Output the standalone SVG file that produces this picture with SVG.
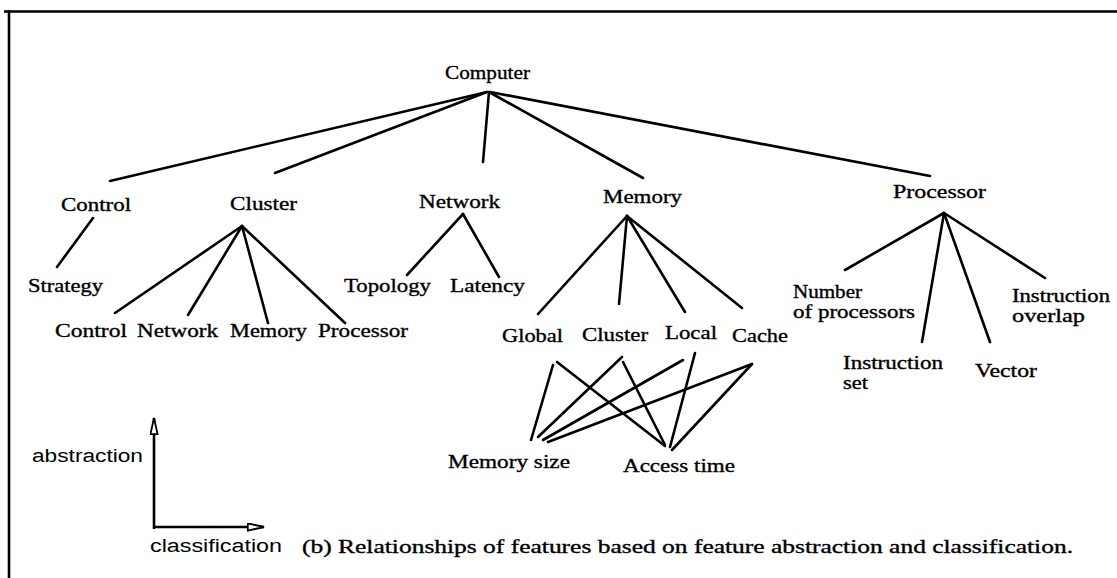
<svg xmlns="http://www.w3.org/2000/svg" width="1117" height="578" viewBox="0 0 1117 578">
<style>
.t{font-family:"Liberation Serif","Times New Roman",serif;font-size:19px;fill:#000;stroke:#000;stroke-width:0.35}
.t2{font-family:"Liberation Serif","Times New Roman",serif;font-size:18px;fill:#000;stroke:#000;stroke-width:0.35}
.s{font-family:"Liberation Sans",Arial,sans-serif;font-size:18px;fill:#000}
.e{stroke:#000;stroke-width:2.6;fill:none;stroke-linecap:round}
.b{stroke:#000;stroke-width:2.6;fill:none}
</style>
<defs>
<marker id="oa" viewBox="0 0 20 10" refX="19" refY="5" markerWidth="18" markerHeight="9" markerUnits="userSpaceOnUse" orient="auto">
<path d="M1,1 L19,5 L1,9 Z" fill="#fff" stroke="#000" stroke-width="2"/>
</marker>
</defs>
<rect width="1117" height="578" fill="#fff"/>
<g id="frame">
<line class="b" x1="4" y1="11.5" x2="1117" y2="11.5"/>
<line class="b" x1="9" y1="10" x2="9" y2="578"/>
</g>
<g id="connectors">
<line class="e" x1="487" y1="92" x2="110" y2="181"/>
<line class="e" x1="487" y1="92" x2="275" y2="173"/>
<line class="e" x1="489" y1="92" x2="483" y2="162"/>
<line class="e" x1="489" y1="92" x2="643" y2="178"/>
<line class="e" x1="490" y1="92" x2="930" y2="176"/>
<line class="e" x1="93" y1="218" x2="57" y2="267"/>
<line class="e" x1="242" y1="226" x2="115" y2="313"/>
<line class="e" x1="242" y1="226" x2="188" y2="315"/>
<line class="e" x1="242" y1="226" x2="268" y2="323"/>
<line class="e" x1="242" y1="226" x2="345" y2="323"/>
<line class="e" x1="463" y1="214" x2="407" y2="275"/>
<line class="e" x1="463" y1="214" x2="499" y2="277"/>
<line class="e" x1="627" y1="216" x2="538" y2="314"/>
<line class="e" x1="627" y1="216" x2="619" y2="304"/>
<line class="e" x1="627" y1="216" x2="685" y2="312"/>
<line class="e" x1="627" y1="216" x2="742" y2="308"/>
<line class="e" x1="944" y1="213" x2="845" y2="270"/>
<line class="e" x1="944" y1="213" x2="922" y2="342"/>
<line class="e" x1="944" y1="213" x2="990" y2="342"/>
<line class="e" x1="944" y1="213" x2="1045" y2="278"/>
<line class="e" x1="553" y1="365" x2="531" y2="440"/>
<line class="e" x1="557" y1="362" x2="665" y2="446"/>
<line class="e" x1="622" y1="357" x2="538" y2="437"/>
<line class="e" x1="623" y1="362" x2="665" y2="445"/>
<line class="e" x1="683" y1="360" x2="543" y2="440"/>
<line class="e" x1="695" y1="353" x2="670" y2="447"/>
<line class="e" x1="752" y1="364" x2="548" y2="442"/>
<line class="e" x1="752" y1="364" x2="672" y2="450"/>
</g>
<g id="axes">
<line class="b" x1="154" y1="529" x2="154" y2="418" marker-end="url(#oa)"/>
<line class="b" x1="153" y1="527" x2="264" y2="527" marker-end="url(#oa)"/>
<text class="s" x="32" y="462" textLength="111" lengthAdjust="spacingAndGlyphs">abstraction</text>
<text class="s" x="150" y="552" textLength="132" lengthAdjust="spacingAndGlyphs">classification</text>
</g>
<g id="n-computer"><text class="t" x="445" y="79" textLength="85" lengthAdjust="spacingAndGlyphs">Computer</text></g>
<g id="n-control"><text class="t" x="61" y="211" textLength="70" lengthAdjust="spacingAndGlyphs">Control</text></g>
<g id="n-cluster"><text class="t" x="230" y="210" textLength="67" lengthAdjust="spacingAndGlyphs">Cluster</text></g>
<g id="n-network"><text class="t" x="419" y="208" textLength="81" lengthAdjust="spacingAndGlyphs">Network</text></g>
<g id="n-memory"><text class="t" x="603" y="203" textLength="79" lengthAdjust="spacingAndGlyphs">Memory</text></g>
<g id="n-processor"><text class="t" x="893" y="198" textLength="93" lengthAdjust="spacingAndGlyphs">Processor</text></g>
<g id="n-strategy"><text class="t" x="28" y="292" textLength="75" lengthAdjust="spacingAndGlyphs">Strategy</text></g>
<g id="n-cl-control"><text class="t" x="55" y="337" textLength="72" lengthAdjust="spacingAndGlyphs">Control</text></g>
<g id="n-cl-network"><text class="t" x="137" y="337" textLength="81" lengthAdjust="spacingAndGlyphs">Network</text></g>
<g id="n-cl-memory"><text class="t" x="230" y="337" textLength="77" lengthAdjust="spacingAndGlyphs">Memory</text></g>
<g id="n-cl-processor"><text class="t" x="318" y="337" textLength="90" lengthAdjust="spacingAndGlyphs">Processor</text></g>
<g id="n-topology"><text class="t" x="344" y="292" textLength="87" lengthAdjust="spacingAndGlyphs">Topology</text></g>
<g id="n-latency"><text class="t" x="450" y="292" textLength="75" lengthAdjust="spacingAndGlyphs">Latency</text></g>
<g id="n-global"><text class="t" x="502" y="342" textLength="61" lengthAdjust="spacingAndGlyphs">Global</text></g>
<g id="n-mem-cluster"><text class="t" x="582" y="341" textLength="66" lengthAdjust="spacingAndGlyphs">Cluster</text></g>
<g id="n-local"><text class="t" x="665" y="339" textLength="52" lengthAdjust="spacingAndGlyphs">Local</text></g>
<g id="n-cache"><text class="t" x="732" y="342" textLength="56" lengthAdjust="spacingAndGlyphs">Cache</text></g>
<g id="n-memsize"><text class="t" x="448" y="468" textLength="122" lengthAdjust="spacingAndGlyphs">Memory size</text></g>
<g id="n-access"><text class="t" x="623" y="472" textLength="112" lengthAdjust="spacingAndGlyphs">Access time</text></g>
<g id="n-numproc"><text class="t2" x="793" y="298" textLength="69" lengthAdjust="spacingAndGlyphs">Number</text><text class="t2" x="793" y="318" textLength="122" lengthAdjust="spacingAndGlyphs">of processors</text></g>
<g id="n-instset"><text class="t2" x="843" y="369" textLength="100" lengthAdjust="spacingAndGlyphs">Instruction</text><text class="t2" x="843" y="389" textLength="25" lengthAdjust="spacingAndGlyphs">set</text></g>
<g id="n-vector"><text class="t" x="975" y="377" textLength="62" lengthAdjust="spacingAndGlyphs">Vector</text></g>
<g id="n-instover"><text class="t2" x="1012" y="302" textLength="98" lengthAdjust="spacingAndGlyphs">Instruction</text><text class="t2" x="1012" y="322" textLength="73" lengthAdjust="spacingAndGlyphs">overlap</text></g>
<g id="caption"><text class="t" x="302" y="553" textLength="771" lengthAdjust="spacingAndGlyphs">(b) Relationships of features based on feature abstraction and classification.</text></g>
</svg>
